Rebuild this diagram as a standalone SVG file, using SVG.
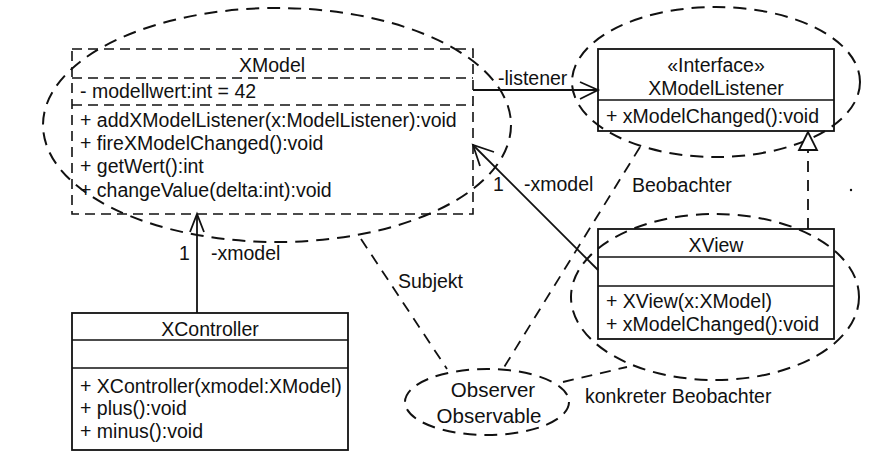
<svg xmlns="http://www.w3.org/2000/svg" width="869" height="453" viewBox="0 0 869 453">
<style>
text{font-family:"Liberation Sans",Arial,sans-serif;font-size:19.5px;fill:#111}
.m{text-anchor:middle}
.o{font-size:20.5px}
.box{fill:#fff;stroke:#111;stroke-width:1.8}
.dbox{fill:#fff;stroke:#111;stroke-width:1.6;stroke-dasharray:10 6}
.div{stroke:#111;stroke-width:1.6}
.ddiv{stroke:#111;stroke-width:1.6;stroke-dasharray:10 6}
.ell{fill:none;stroke:#111;stroke-width:2;stroke-dasharray:13 8}
.dl{fill:none;stroke:#111;stroke-width:1.8;stroke-dasharray:11 8}
.ln{fill:none;stroke:#111;stroke-width:1.8}
</style>
<rect width="869" height="453" fill="#fff"/>

<g id="XModel">
<rect class="dbox" x="72" y="49" width="401" height="165"/>
<line class="ddiv" x1="72" y1="78" x2="473" y2="78"/>
<line class="ddiv" x1="72" y1="105" x2="473" y2="105"/>
<text class="m" x="272" y="72">XModel</text>
<text x="80" y="98">- modellwert:int = 42</text>
<text x="80" y="127">+ addXModelListener(x:ModelListener):void</text>
<text x="80" y="150">+ fireXModelChanged():void</text>
<text x="80" y="173">+ getWert():int</text>
<text x="80" y="197">+ changeValue(delta:int):void</text>
</g>

<g id="XModelListener">
<rect class="box" x="598" y="49" width="236" height="82"/>
<line class="div" x1="598" y1="100" x2="834" y2="100"/>
<text class="m" x="716" y="72">«Interface»</text>
<text class="m" x="716" y="95">XModelListener</text>
<text x="606" y="123">+ xModelChanged():void</text>
</g>

<g id="XView">
<rect class="box" x="598" y="229" width="236" height="110"/>
<line class="div" x1="598" y1="257" x2="834" y2="257"/>
<line class="div" x1="598" y1="286" x2="834" y2="286"/>
<text class="m" x="716" y="252">XView</text>
<text x="606" y="308">+ XView(x:XModel)</text>
<text x="606" y="331">+ xModelChanged():void</text>
</g>

<g id="XController">
<rect class="box" x="72" y="313" width="276" height="137"/>
<line class="div" x1="72" y1="340" x2="348" y2="340"/>
<line class="div" x1="72" y1="368" x2="348" y2="368"/>
<text class="m" x="210" y="336">XController</text>
<text x="80" y="393">+ XController(xmodel:XModel)</text>
<text x="80" y="415">+ plus():void</text>
<text x="80" y="438">+ minus():void</text>
</g>

<g id="ObserverPattern">
<ellipse class="ell" cx="277" cy="125" rx="234" ry="117"/>
<ellipse class="ell" cx="716" cy="82" rx="144" ry="75"/>
<ellipse class="ell" cx="715" cy="297" rx="144" ry="83"/>
<ellipse class="ell" cx="487" cy="402" rx="82" ry="33"/>
<text class="m o" x="493" y="397">Observer</text>
<text class="m o" x="489" y="423">Observable</text>
</g>

<g id="connectors">
<line class="ln" x1="473" y1="90" x2="597" y2="90"/>
<polyline class="ln" points="580,82 598,90 580,99"/>
<line class="ln" x1="598" y1="270" x2="474" y2="146"/>
<polyline class="ln" points="494,152 473,145 480,166"/>
<line class="ln" x1="197" y1="313" x2="197" y2="215"/>
<polyline class="ln" points="190,232 197,214 204,232"/>
<line class="dl" x1="808" y1="229" x2="808" y2="150"/>
<polygon points="808,132 799,150 817,150" fill="#fff" stroke="#111" stroke-width="1.8"/>
<line class="dl" x1="361" y1="239" x2="447" y2="369"/>
<line class="dl" x1="640" y1="147" x2="503" y2="369"/>
<line class="dl" x1="563" y1="382" x2="627" y2="367"/>
</g>

<g id="labels">
<text x="498" y="85">-listener</text>
<text x="493" y="191">1</text>
<text x="524" y="191">-xmodel</text>
<text x="632" y="192">Beobachter</text>
<text x="179" y="260">1</text>
<text x="211" y="260">-xmodel</text>
<text x="398" y="288">Subjekt</text>
<text x="585" y="403">konkreter Beobachter</text>
<circle cx="851" cy="190" r="1.2" fill="#111"/>
</g>
</svg>
